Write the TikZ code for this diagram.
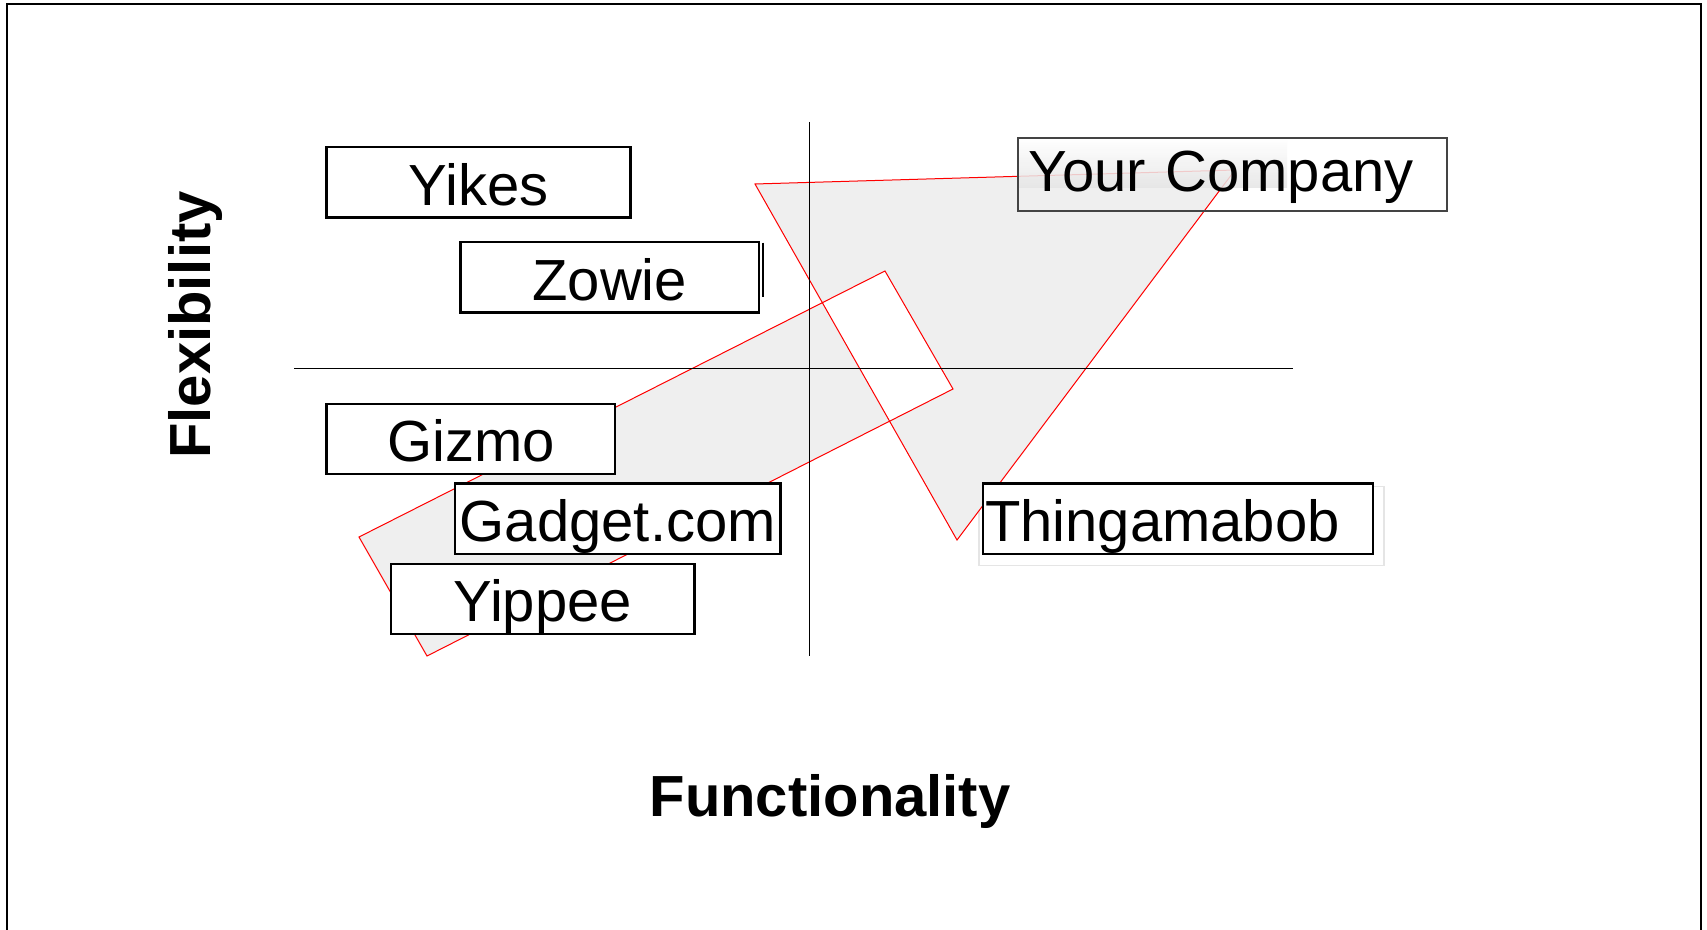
\documentclass[tikz,border=0pt]{standalone}
\usepackage{fontspec}
\setmainfont{Liberation Sans}
\usetikzlibrary{positioning,backgrounds}

\definecolor{arrowgray}{HTML}{EFEFEF}
\definecolor{bandgray}{HTML}{D8D8D8}
\definecolor{framegray}{HTML}{444444}

\tikzset{
  big/.style={font=\fontsize{29pt}{34pt}\selectfont},
  firm/.style={big, draw, line width=1.2pt, fill=white, inner sep=0pt,
    minimum height=35.3pt, text height=23pt, text depth=0pt},
  axis/.style={line width=0.5pt},
  title/.style={font=\fontsize{29pt}{34pt}\selectfont\bfseries},
}

\begin{document}
\begin{tikzpicture}[x=0.5pt,y=-0.5pt]
  \clip (0,0) rectangle (1707,930);
  \begin{scope}[on background layer]
    \fill[white] (0,0) rectangle (1707,930);
  \end{scope}
  \draw[line width=1pt] (7,940) -- (7,4) -- (1701,4) -- (1701,940);
  % the arrow
  \path[fill=arrowgray, draw=red, line width=0.5pt, even odd rule]
    (359,537) -- (427,656) -- (953,389) -- (885,271) -- cycle
    (755,184) -- (1235,170) -- (957,540) -- cycle;
  % axes
  \coordinate (ytop) at (809,122);
  \coordinate (ybot) at (809,656);
  \coordinate (xleft) at (294,369);
  \coordinate (xright) at (1293,369);
  \draw[axis] (ytop) -- (ybot);
  \draw[axis] (xleft) -- (xright);

  \node[firm, minimum width=151.9pt] (yikes) at (478.5,182.4) {Yikes};
  \node[firm, minimum width=149.2pt] (zowie) at (609.7,277.1) {Zowie};
  \draw[line width=1pt] ([shift={(3,2)}]zowie.north east) -- ([shift={(3,-17)}]zowie.south east);
  \node[firm, minimum width=144.3pt, minimum height=34.9pt] (gizmo) at (470.9,438.8) {Gizmo};
  \node[firm, minimum width=162.8pt] (gadget) at (617.8,518.8) {Gadget.com};
  \node[firm, minimum width=151.9pt, minimum height=34.9pt] (yippee) at (542.7,598.8) {Yippee};
  \node[firm, fill=none, draw=framegray, line width=0.8pt, text width=203.5pt, inner xsep=5.45pt,
    minimum height=36.5pt, text height=17pt, align=left,
    path picture={\shade[top color=white, bottom color=bandgray, opacity=0.85]
      (path picture bounding box.north west) rectangle
      ([shift={(269,49)}]path picture bounding box.north west);}]
    (you) at (1232.4,174.8) {Your Company};
  \node[firm, text width=192.9pt, inner xsep=1pt, align=left] (thing) at (1177.9,518.8) {Thingamabob};
  \begin{scope}[on background layer]
    \draw[gray!20, line width=0.8pt] ([shift={(-3,10)}]thing.south west) rectangle ([shift={(10,4)}]thing.north east);
  \end{scope}

  \node[title, rotate=90, anchor=base] (flex) at (210,325) {Flexibility};
  \node[title, anchor=base] (func) at (830,816) {Functionality};
\end{tikzpicture}
\end{document}
